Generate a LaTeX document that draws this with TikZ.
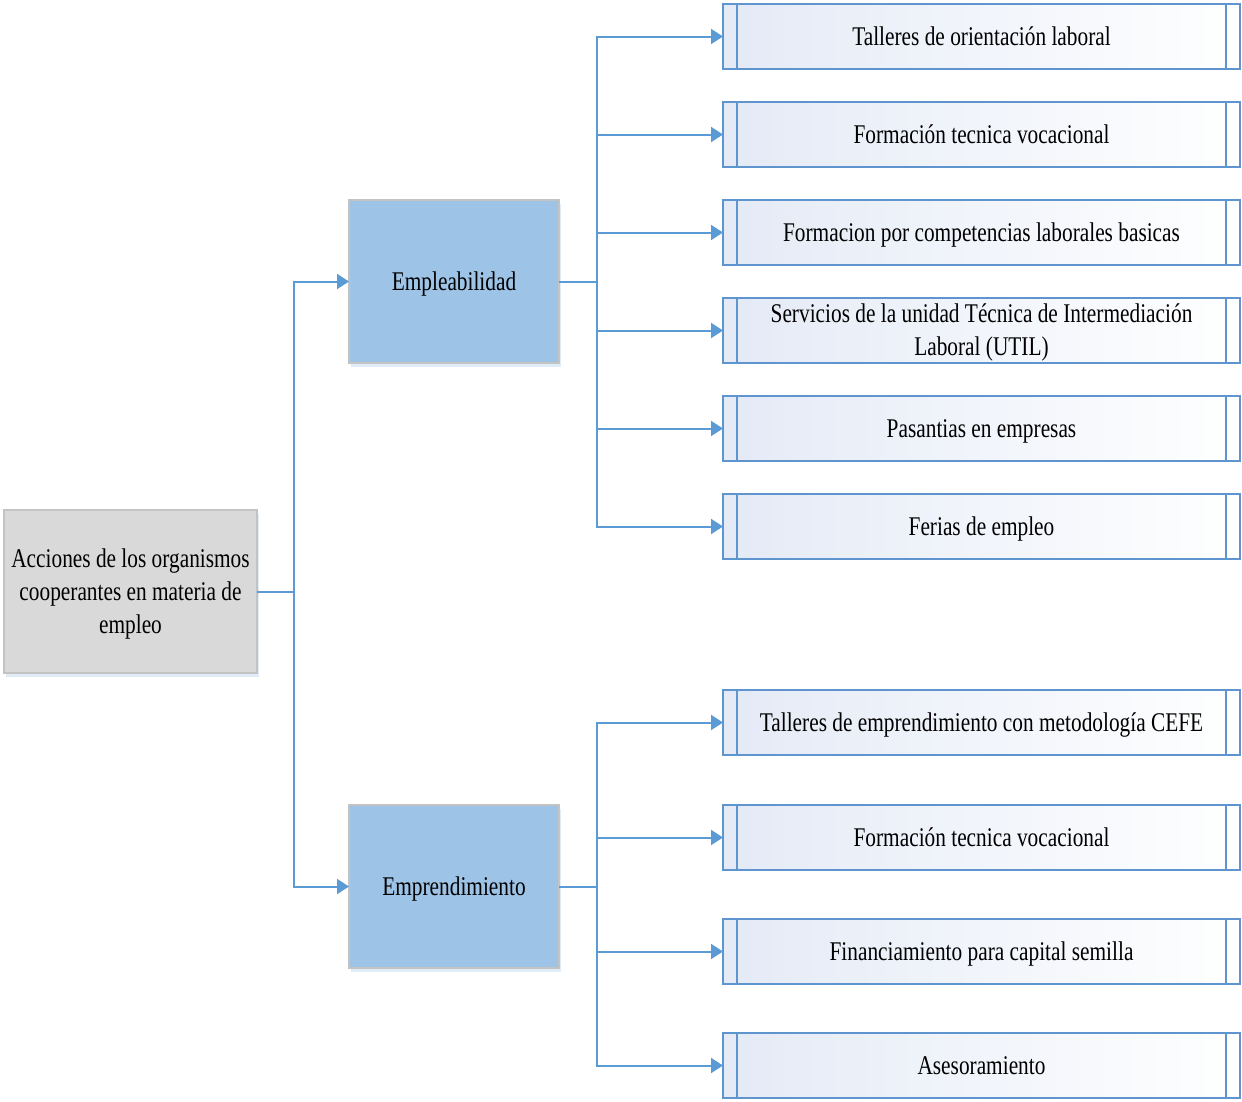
\documentclass[tikz,border=0pt]{standalone}
\usepackage{fontspec}
\setmainfont{Liberation Serif}[FakeStretch=0.79]
\usetikzlibrary{arrows.meta, shadows}
\definecolor{azulLinea}{HTML}{5B9BD5}
\definecolor{azulBorde}{HTML}{5F95CF}
\definecolor{azulCaja}{HTML}{9DC3E6}
\definecolor{azulClaro}{HTML}{E4EAF6}
\definecolor{grisCaja}{HTML}{D9D9D9}
\definecolor{grisBorde}{HTML}{C3C3C3}
% puntales para centrar el texto en las cajas
\newcommand{\alto}{\rule{0pt}{23.5pt}}
\newcommand{\bajo}{\rule[-6.5pt]{0pt}{6.5pt}}
\tikzset{
  caja/.style = {draw = grisBorde, line width = 1.5pt, inner sep = 0pt, outer sep = 0pt, align = center,
    drop shadow = {shadow xshift = 2pt, shadow yshift = -4pt, fill = azulCaja!70, opacity = 0.45}},
  raiz/.style = {caja, fill = grisCaja, minimum width = 253pt, minimum height = 163pt},
  rama/.style = {caja, fill = azulCaja, minimum width = 210pt, minimum height = 163pt},
  hoja/.style = {draw = azulBorde, line width = 1.4pt, left color = azulClaro, right color = white,
    inner sep = 0pt, outer sep = 0pt, align = center, minimum width = 517pt, minimum height = 65pt},
  conector/.style = {draw = azulLinea, line width = 2pt},
  flecha/.style = {conector, -{Triangle[length = 12pt, width = 15pt]}}
}

\begin{document}
\begin{tikzpicture}[x = 1pt, y = -1pt, font = \fontsize{27}{33}\selectfont]
    \useasboundingbox (0,0) rectangle (1242,1101);
    % Cajas principales
    \node[raiz] (acc) at (130.5,591.5) {\alto Acciones de los organismos\\cooperantes en materia de\\empleo\bajo};
    \node[rama] (empl) at (454,281.5) {\alto Empleabilidad\bajo};
    \node[rama] (empr) at (454,886.5) {\alto Emprendimiento\bajo};
    % Conectores desde la raiz
    \draw[flecha] (acc.east) -- ++(37,0) |- (empl.west);
    \draw[flecha] (acc.east) -- ++(37,0) |- (empr.west);
    % Hojas
    \foreach \padre/\nombre/\y/\texto in {
        empl/ta/36.5/{Talleres de orientación laboral},
        empl/fv/134.5/{Formación tecnica vocacional},
        empl/fc/232.5/{Formacion por competencias laborales basicas},
        empl/su/330.5/{Servicios de la unidad Técnica de Intermediación\\Laboral (UTIL)},
        empl/pe/428.5/{Pasantias en empresas},
        empl/fe/526.5/{Ferias de empleo},
        empr/tc/722.5/{Talleres de emprendimiento con metodología CEFE},
        empr/fv2/837.5/{Formación tecnica vocacional},
        empr/fi/951.5/{Financiamiento para capital semilla},
        empr/as/1065.5/{Asesoramiento}}{
        \node[hoja] (\nombre) at (981.5,\y) {\alto\texto\bajo};
        \draw[draw = azulBorde, line width = 1.4pt] ([xshift = 14pt]\nombre.north west) -- ([xshift = 14pt]\nombre.south west);
        \draw[draw = azulBorde, line width = 1.4pt] ([xshift = -14pt]\nombre.north east) -- ([xshift = -14pt]\nombre.south east);
        \draw[flecha] (\padre.east) -- ++(38,0) |- (\nombre.west);
    }
\end{tikzpicture}
\end{document}
